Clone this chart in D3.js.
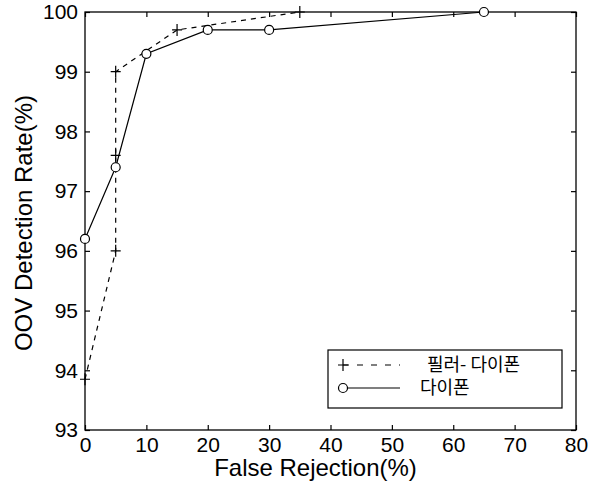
<!DOCTYPE html>
<html>
<head>
<meta charset="utf-8">
<script src="https://d3js.org/d3.v7.min.js"></script>
<style>
body { margin: 0; background: #fff; }
text { font-family: "Liberation Sans", Arial, sans-serif; fill: #000; }
.kr { font-family: "Noto Sans CJK KR", sans-serif; }
</style>
</head>
<body>
<script>
// series: filler + dipone (dashed, plus markers)
var fillerX = [0, 5, 5, 5, 15, 35];
var fillerY = [93.85, 96, 97.6, 99, 99.7, 100];
// series: dipone only (solid, circle markers)
var diponeX = [0, 5, 10, 20, 30, 65];
var diponeY = [96.2, 97.4, 99.3, 99.7, 99.7, 100];

var xTicks = [0, 10, 20, 30, 40, 50, 60, 70, 80];
var yTicks = [93, 94, 95, 96, 97, 98, 99, 100];
var legendLabels = ["필러- 다이폰", "다이폰"];

var w = 589, h = 487;
var pLeft = 85, pRight = 576, pTop = 12, pBottom = 430;

var svg = d3.select("body").append("svg")
  .attr("width", w).attr("height", h);

var x = d3.scaleLinear().domain([0, 80]).range([pLeft, pRight]);
var y = d3.scaleLinear().domain([93, 100]).range([pBottom, pTop]);

// frame
svg.append("rect")
  .attr("x", pLeft).attr("y", pTop)
  .attr("width", pRight - pLeft).attr("height", pBottom - pTop)
  .attr("fill", "none").attr("stroke", "#000").attr("stroke-width", 1.3);

// axes, ticks pointing inward on all 4 sides
function styleAxis(g) {
  g.select(".domain").remove();
  g.selectAll(".tick line").attr("stroke", "#000").attr("stroke-width", 1.2);
  g.selectAll("text").style("font-size", "21px");
}
svg.append("g").attr("transform", "translate(0," + pBottom + ")")
  .call(d3.axisBottom(x).tickValues(xTicks).tickSizeInner(-5).tickPadding(7).tickFormat(d3.format("d")))
  .call(styleAxis);
svg.append("g").attr("transform", "translate(0," + pTop + ")")
  .call(d3.axisTop(x).tickValues(xTicks).tickSizeInner(-5).tickFormat(""))
  .call(styleAxis);
svg.append("g").attr("transform", "translate(" + pLeft + ",0)")
  .call(d3.axisLeft(y).tickValues(yTicks).tickSizeInner(-5).tickPadding(7).tickFormat(d3.format("d")))
  .call(styleAxis);
svg.append("g").attr("transform", "translate(" + pRight + ",0)")
  .call(d3.axisRight(y).tickValues(yTicks).tickSizeInner(-5).tickFormat(""))
  .call(styleAxis);

// axis titles
svg.append("text")
  .attr("x", (pLeft + pRight) / 2 - 15).attr("y", 476)
  .attr("text-anchor", "middle").style("font-size", "24px")
  .text("False Rejection(%)");
svg.append("text")
  .attr("transform", "translate(24,223) rotate(-90)")
  .attr("dy", "0.35em")
  .attr("text-anchor", "middle").style("font-size", "24px")
  .text("OOV Detection Rate(%)");

var line = d3.line().x(function(d) { return x(d[0]); }).y(function(d) { return y(d[1]); });
var filler = d3.zip(fillerX, fillerY);
var dipone = d3.zip(diponeX, diponeY);

svg.append("path").datum(filler).attr("d", line)
  .attr("fill", "none").attr("stroke", "#000").attr("stroke-width", 1.2)
  .attr("stroke-dasharray", "5,5");
svg.append("path").datum(dipone).attr("d", line)
  .attr("fill", "none").attr("stroke", "#000").attr("stroke-width", 1.2);

function plus(g, cx, cy) {
  g.append("path")
    .attr("d", "M" + (cx - 5) + "," + cy + "H" + (cx + 5) + "M" + cx + "," + (cy - 6) + "V" + (cy + 6))
    .attr("stroke", "#000").attr("stroke-width", 1.2).attr("fill", "none");
}
filler.forEach(function(d) { plus(svg, x(d[0]), y(d[1])); });

svg.selectAll("circle.pt").data(dipone).enter().append("circle")
  .attr("class", "pt")
  .attr("cx", function(d) { return x(d[0]); })
  .attr("cy", function(d) { return y(d[1]); })
  .attr("r", 4.5)
  .attr("fill", "#fff").attr("stroke", "#000").attr("stroke-width", 1.2);

// legend
var lg = svg.append("g");
lg.append("rect").attr("x", 328).attr("y", 350).attr("width", 234).attr("height", 58)
  .attr("fill", "#fff").attr("stroke", "#000").attr("stroke-width", 1.2);
lg.append("line").attr("x1", 343).attr("x2", 400).attr("y1", 365).attr("y2", 365)
  .attr("stroke", "#000").attr("stroke-width", 1.2).attr("stroke-dasharray", "6,8");
plus(lg, 343, 365);
lg.append("line").attr("x1", 343).attr("x2", 400).attr("y1", 388).attr("y2", 388)
  .attr("stroke", "#000").attr("stroke-width", 1.2);
lg.append("circle").attr("cx", 343).attr("cy", 388).attr("r", 4.5)
  .attr("fill", "#fff").attr("stroke", "#000").attr("stroke-width", 1.2);
lg.append("text").attr("class", "kr").attr("x", 427).attr("y", 365).attr("dy", "0.35em")
  .style("font-size", "18px").text(legendLabels[0]);
lg.append("text").attr("class", "kr").attr("x", 420).attr("y", 388).attr("dy", "0.35em")
  .style("font-size", "18px").text(legendLabels[1]);
</script>
</body>
</html>
